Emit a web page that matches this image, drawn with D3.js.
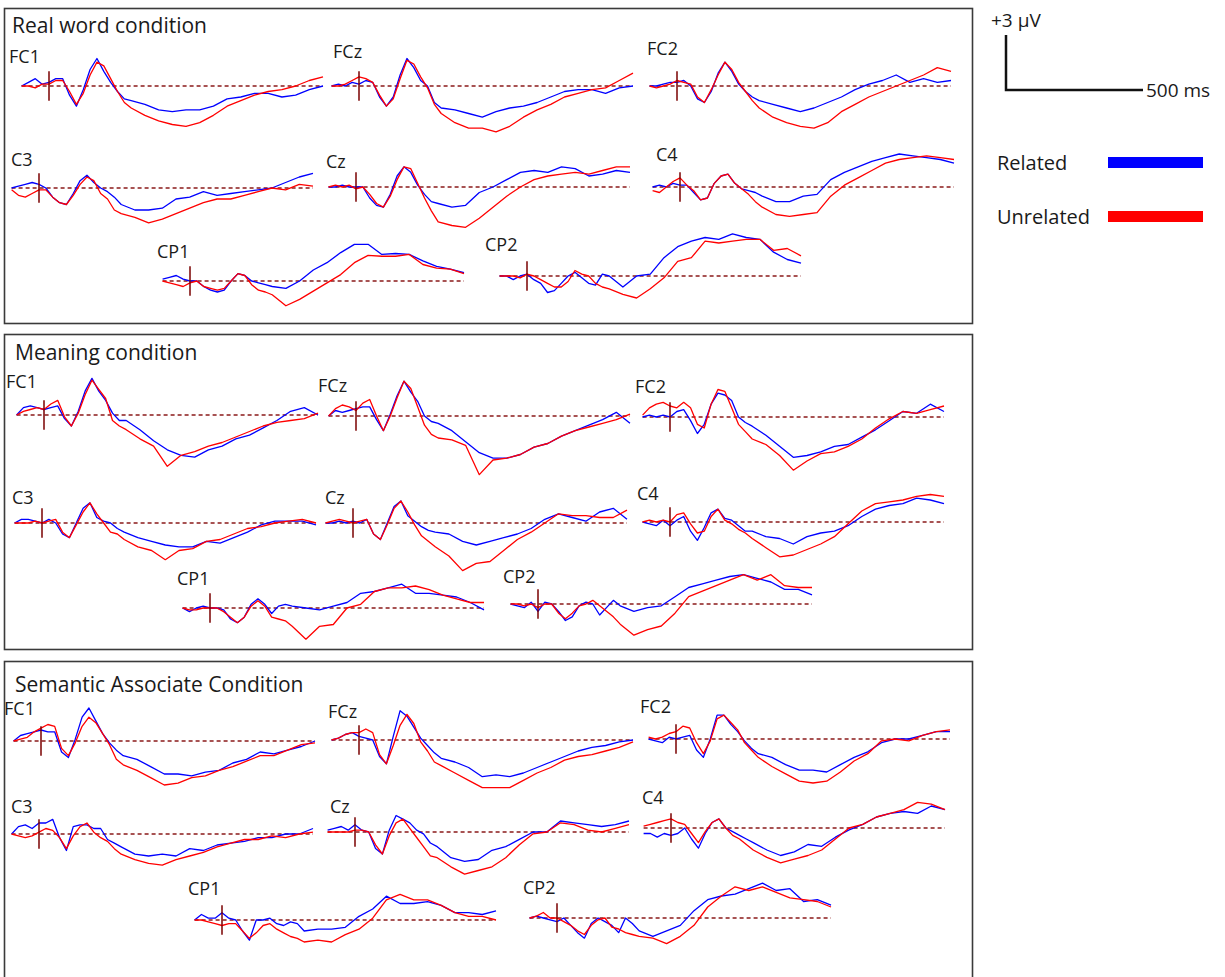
<!DOCTYPE html>
<html>
<head>
<meta charset="utf-8">
<script src="https://cdn.jsdelivr.net/npm/d3@7"></script>
<style>
  body { margin: 0; background: #fff; }
  svg { display: block; font-family: 'Open Sans', 'Noto Sans', sans-serif; }
</style>
</head>
<body>
<div id="chart"></div>
<script>
// sample times (ms) shared by every trace
var times = [-100,-75,-50,-25,0,25,50,75,100,125,150,175,200,225,250,275,300,
  350,400,450,500,550,600,650,700,750,800,850,900,950,1000];
var electrodes = ['FC1','FCz','FC2','C3','Cz','C4','CP1','CP2'];
var conditions = ['Real word condition','Meaning condition','Semantic Associate Condition'];
var legendLabels = ['Related','Unrelated'];
var scaleUV = 3;
var scaleMs = 500;

// real word condition (uV)
var realFC1Rel = [0,0.2,0.4,0.1,0.2,0.4,0.4,-0.5,-1.1,-0.2,0.9,1.5,0.8,0.2,-0.3,-0.7,-0.8,-1.0,-1.3,-1.4,-1.3,-1.3,-1.1,-0.7,-0.6,-0.4,-0.4,-0.6,-0.5,-0.2,0.0];
var realFC1Unr = [0,0,-0.1,0.1,0.1,0.3,0.3,-0.3,-1.0,-0.4,0.6,1.3,1.1,0.4,-0.3,-0.9,-1.2,-1.6,-1.9,-2.1,-2.2,-2.0,-1.6,-1.1,-0.8,-0.5,-0.3,-0.2,0,0.3,0.5];
var realFCzRel = [0,0.1,0,0.2,0.1,0.3,0.2,-0.6,-1.1,-0.6,0.6,1.5,1.0,0.3,0,-0.9,-1.2,-1.3,-1.5,-1.7,-1.4,-1.2,-1.1,-0.9,-0.6,-0.3,-0.2,-0.2,-0.4,-0.1,0];
var realFCzUnr = [0,0,0.1,0.3,0.5,0.4,0.2,-0.5,-1.1,-0.7,0.4,1.4,1.2,0.5,-0.1,-1.0,-1.5,-2.0,-2.3,-2.3,-2.5,-2.2,-1.7,-1.3,-1.0,-0.6,-0.4,-0.2,-0.1,0.3,0.7];
var realFC2Rel = [0,0,0.1,0.2,0.2,0.3,0,-0.7,-0.9,-0.3,0.7,1.3,0.8,0.1,-0.3,-0.6,-0.8,-1.0,-1.2,-1.4,-1.2,-0.9,-0.6,-0.2,0.1,0.3,0.6,0.2,0.4,0.2,0.3];
var realFC2Unr = [0,-0.1,0,0.1,0.3,0.2,0.1,-0.6,-0.9,-0.2,0.6,1.3,0.9,0.2,-0.3,-0.8,-1.2,-1.7,-2.0,-2.2,-2.3,-2.0,-1.4,-1.0,-0.6,-0.3,0,0.3,0.6,1.0,0.8];
var realC3Rel = [0,0.1,0.2,0.3,0.2,0,-0.5,-0.8,-0.9,-0.3,0.4,0.7,0.3,0,-0.2,-0.5,-0.9,-1.2,-1.2,-1.1,-0.6,-0.5,-0.2,-0.4,-0.3,-0.2,-0.1,0,0.3,0.6,0.8];
var realC3Unr = [-0.1,-0.4,-0.5,-0.3,-0.1,-0.1,-0.5,-0.8,-0.9,-0.4,0.2,0.6,0.4,-0.3,-0.6,-1.2,-1.4,-1.6,-1.9,-1.7,-1.4,-1.1,-0.8,-0.6,-0.6,-0.4,-0.2,0,-0.1,0.2,0.1];
var realCzRel = [0,0,0.1,0,0,0,-0.6,-1.0,-1.1,-0.4,0.6,1.1,0.8,0.1,-0.4,-0.8,-0.9,-1.1,-1.0,-0.3,0,0.4,0.8,0.9,0.8,1.1,1.0,0.6,0.7,0.9,0.8];
var realCzUnr = [0,0.1,0,0.1,-0.1,0,-0.4,-0.9,-1.1,-0.5,0.4,1.1,1.0,0.2,-0.6,-1.3,-1.9,-2.1,-2.2,-1.7,-1.1,-0.5,0,0.4,0.6,0.7,0.8,0.7,0.9,1.1,1.1];
var realC4Rel = [0,0.1,0,0.2,0.1,0.1,-0.3,-0.7,-0.6,0.2,0.6,0.7,0.2,-0.1,-0.2,-0.3,-0.5,-0.8,-0.8,-0.5,-0.4,0.4,0.8,1.1,1.4,1.6,1.8,1.7,1.6,1.5,1.3];
var realC4Unr = [-0.2,-0.3,0,0.3,0.5,0.1,-0.2,-0.7,-0.6,0.2,0.6,0.7,0.2,-0.1,-0.4,-0.8,-1.1,-1.5,-1.6,-1.5,-1.4,-0.5,0.1,0.5,0.9,1.3,1.5,1.6,1.7,1.6,1.5];
var realCP1Rel = [0.1,0.2,0.3,0.1,0,0,-0.3,-0.5,-0.6,-0.5,0,0.4,0.3,0,-0.1,-0.2,-0.3,-0.4,0,0.6,1.0,1.55,2.0,2.0,1.45,1.5,1.45,1.1,0.8,0.65,0.45];
var realCP1Unr = [0,-0.1,-0.2,-0.3,-0.1,0,-0.3,-0.4,-0.5,-0.4,0,0.4,0.3,-0.2,-0.5,-0.6,-0.75,-1.35,-1.0,-0.55,-0.1,0.35,1.0,1.4,1.35,1.35,1.45,0.9,0.7,0.65,0.4];
var realCP2Rel = [0,0,-0.2,0,0.1,-0.2,-0.4,-0.9,-0.8,-0.4,0,0.2,-0.1,-0.4,-0.5,0.1,0,-0.6,0,0.1,1.0,1.6,1.9,2.1,2.0,2.3,2.1,2.0,1.3,0.9,0.7];
var realCP2Unr = [0,0,0,-0.1,0.1,0,-0.2,-0.4,-0.6,-0.6,-0.3,0.3,0.1,0,-0.4,-0.6,-0.7,-1.0,-1.2,-0.7,-0.1,0.8,1.0,1.9,1.8,1.9,2.0,2.0,1.4,1.5,1.1];

// meaning condition
var meanFC1Rel = [0,0.4,0.5,0.4,0.3,0.4,0.5,-0.2,-0.6,0.2,1.3,2.0,1.3,0.8,0.1,-0.3,-0.3,-0.8,-1.4,-1.9,-2.2,-2.3,-1.9,-1.7,-1.3,-1.1,-0.7,-0.3,0.2,0.4,0];
var meanFC1Unr = [0,0.2,0.3,0.4,0.3,0.6,0.8,-0.1,-0.6,0.1,1.1,1.9,1.4,0.9,-0.3,-0.6,-0.8,-1.3,-1.7,-2.8,-2.2,-2.0,-1.7,-1.5,-1.2,-0.9,-0.6,-0.4,-0.3,-0.2,0.1];
var meanFCzRel = [0,0.3,0.2,0.3,0.4,0.5,0.5,-0.2,-0.8,0.1,1.1,1.9,1.3,0.8,0,-0.3,-0.4,-0.8,-1.4,-2.0,-2.3,-2.3,-2.1,-1.7,-1.5,-1.1,-0.8,-0.5,-0.2,0.2,-0.4];
var meanFCzUnr = [0,0.4,0.6,0.5,0.3,0.7,0.9,0,-0.8,0,1.0,1.9,1.5,0.5,-0.5,-1.0,-1.2,-1.3,-1.6,-3.2,-2.4,-2.3,-2.1,-1.7,-1.5,-1.1,-0.8,-0.6,-0.4,-0.2,0.1];
var meanFC2Rel = [0,0.1,0,0.1,0,0.3,0.4,-0.2,-0.9,-0.4,0.7,1.3,1.2,0.9,0,-0.3,-0.5,-1.0,-1.6,-2.2,-2.1,-1.9,-1.6,-1.5,-1.1,-0.7,-0.2,0.3,0.2,0.7,0.3];
var meanFC2Unr = [0.1,0.5,0.7,0.8,0.6,0.5,0.8,0.5,-0.4,-0.6,0.7,1.5,1.4,0.5,-0.4,-0.8,-1.2,-1.5,-2.1,-2.9,-2.4,-2.0,-1.9,-1.6,-1.2,-0.6,-0.1,0.3,0.2,0.4,0.6];
var meanC3Rel = [0,0.2,0.2,0.1,0,0.2,0,-0.6,-0.8,0,0.8,1.1,0.3,0.1,0,-0.3,-0.5,-0.8,-1.0,-1.2,-1.3,-1.3,-1.0,-1.1,-0.8,-0.5,-0.1,0.1,0.1,0.1,-0.1];
var meanC3Unr = [0,0,0,0.1,0,0.1,0.2,-0.5,-0.8,-0.1,0.6,1.1,0.5,0,-0.5,-0.6,-0.9,-1.3,-1.5,-2.0,-1.5,-1.4,-1.0,-0.9,-0.6,-0.3,-0.2,0,0.1,0.2,0];
var meanCzRel = [0,0,0.1,0,0.1,0,0.2,-0.6,-0.9,0,0.9,1.2,0.4,0.1,-0.2,-0.4,-0.5,-0.6,-1.0,-1.2,-1.0,-0.8,-0.6,-0.3,0.2,0.5,0.3,0.1,0.6,0.8,0.2];
var meanCzUnr = [0,0.1,0.2,0.1,0,0.1,0.2,-0.6,-0.9,-0.1,0.8,1.2,0.6,-0.1,-0.7,-1.0,-1.3,-1.8,-2.6,-2.2,-2.1,-1.5,-0.9,-0.5,0,0.5,0.4,0.4,0.3,0.3,0.7];
var meanC4Rel = [0,-0.1,-0.2,0.1,-0.2,0.1,0.3,-0.5,-1.0,-0.3,0.5,0.7,0.2,0.1,-0.2,-0.5,-0.5,-0.8,-0.9,-1.2,-0.8,-0.6,-0.5,-0.2,0.3,0.7,0.9,1.0,1.3,1.2,1.0];
var meanC4Unr = [0,0.1,0,0.1,0,0.4,0.5,-0.1,-0.6,-0.5,0.3,0.7,0.1,-0.1,-0.4,-0.6,-0.9,-1.4,-1.9,-1.8,-1.5,-1.2,-0.8,-0.1,0.6,1.0,1.1,1.2,1.4,1.5,1.4];
var meanCP1Rel = [0,-0.2,0,0.1,0,0,-0.1,-0.6,-0.8,-0.5,0.2,0.5,0.2,-0.3,0.1,0.2,0.1,0,-0.1,0.1,0.3,0.8,0.9,1.1,1.3,0.8,0.8,0.7,0.6,0.3,-0.1];
var meanCP1Unr = [0,-0.1,-0.1,0,0,0,-0.2,-0.5,-0.8,-0.5,0.1,0.4,0.1,-0.5,-0.6,-0.7,-1.0,-1.7,-1.0,-0.9,0,0.2,0.9,1.1,1.1,1.2,1.0,0.7,0.5,0.3,0.3];
var meanCP2Rel = [0,-0.1,-0.2,0.1,-0.4,0.1,0,-0.4,-0.9,-0.7,-0.1,0.1,0,-0.6,-0.2,0.2,-0.1,-0.4,-0.2,-0.1,0.4,0.9,1.1,1.3,1.5,1.6,1.4,1.2,0.8,0.8,0.5];
var meanCP2Unr = [0,0,-0.1,0,-0.2,0,0,-0.5,-0.8,-0.5,-0.1,0,0.2,-0.1,-0.4,-0.7,-1.1,-1.7,-1.4,-1.2,-0.5,0.4,0.7,1.0,1.3,1.6,1.3,1.6,1.0,0.9,0.9];

// semantic associate condition
var semFC1Rel = [0,0.3,0.4,0.5,0.6,0.5,0.5,-0.6,-0.9,0.1,1.3,1.8,1.1,0.4,-0.1,-0.5,-0.8,-1.0,-1.4,-1.8,-1.8,-1.9,-1.7,-1.6,-1.2,-1.0,-0.6,-0.7,-0.5,-0.3,0];
var semFC1Unr = [0,0.1,0.2,0.5,0.7,0.9,0.8,-0.4,-0.8,-0.1,0.8,1.3,1.0,0.4,-0.2,-1.0,-1.3,-1.6,-2.0,-2.4,-2.3,-2.0,-1.9,-1.6,-1.4,-1.1,-0.8,-0.8,-0.5,-0.2,-0.1];
var semFCzRel = [0,0.1,0.3,0.4,0.2,0.1,0,-0.9,-1.3,0.2,1.6,1.3,0.7,0.1,-0.3,-0.7,-1.0,-1.2,-1.5,-2.0,-1.9,-2.0,-1.8,-1.5,-1.2,-0.9,-0.6,-0.4,-0.3,-0.1,0];
var semFCzUnr = [0,0.1,0.3,0.4,0.4,0.6,0.4,-0.8,-1.3,-0.3,0.8,1.4,0.9,-0.1,-0.6,-1.2,-1.4,-1.8,-2.2,-2.6,-2.6,-2.6,-2.2,-1.8,-1.5,-1.1,-0.9,-0.8,-0.6,-0.4,-0.1];
var semFC2Rel = [0,-0.1,-0.2,0.1,0,0.1,0.2,-0.6,-1.0,0,1.3,1.3,0.8,0.4,-0.1,-0.5,-0.8,-1.0,-1.4,-1.7,-1.7,-1.8,-1.4,-1.0,-0.7,-0.2,0,0,0.2,0.4,0.4];
var semFC2Unr = [0.1,0,0.1,0.3,0.4,0.7,0.6,-0.2,-0.8,-0.1,1.1,1.3,0.9,0.5,-0.2,-0.6,-1.0,-1.5,-1.9,-2.3,-2.4,-2.3,-1.8,-1.2,-0.8,-0.1,0,-0.1,0.2,0.4,0.5];
var semC3Rel = [0,0.4,0.5,0.3,0.6,0.6,0.8,-0.2,-0.9,0.4,0.5,0.5,0.3,0.3,-0.3,-0.5,-0.7,-1.1,-1.2,-1.1,-1.2,-0.8,-0.9,-0.6,-0.5,-0.4,-0.2,-0.2,0,0,0.3];
var semC3Unr = [0,-0.1,-0.2,-0.1,0.1,0.3,0.2,-0.2,-0.8,-0.1,0.4,0.6,0.1,-0.2,-0.4,-0.8,-1.1,-1.4,-1.6,-1.7,-1.4,-1.2,-1.0,-0.7,-0.5,-0.3,-0.3,-0.1,-0.2,0,0.1];
var semCzRel = [0.1,0.2,0.3,0.1,0.4,0.1,0,-0.9,-1.2,0.1,0.9,0.7,0.5,0.1,-0.1,-0.6,-0.8,-1.4,-1.6,-1.5,-1.0,-0.8,-0.4,0,0,0.6,0.5,0.4,0.3,0.4,0.6];
var semCzUnr = [0,0,0,0,0.1,0.1,0,-0.7,-1.2,-0.2,0.5,0.7,0.2,-0.3,-0.8,-1.3,-1.4,-1.9,-2.3,-2.1,-1.9,-1.4,-0.7,-0.1,0,0.5,0.4,0.1,0,0.2,0.4];
var semC4Rel = [-0.3,-0.3,-0.5,-0.3,-0.4,-0.3,0,-0.6,-1.1,-0.3,0.3,0.5,0,-0.2,-0.4,-0.6,-0.8,-1.2,-1.5,-1.3,-0.9,-1.0,-0.5,-0.1,0.2,0.6,0.8,0.9,0.8,1.2,1.0];
var semC4Unr = [0.1,0.2,0.3,0.4,0.5,0.3,0.2,-0.3,-0.8,-0.2,0.3,0.5,0,-0.4,-0.6,-0.9,-1.2,-1.6,-1.9,-1.7,-1.5,-1.2,-0.6,0,0.2,0.6,0.8,1.0,1.4,1.3,1.0];
var semCP1Rel = [0,0.3,0.1,0.1,0.4,0.1,0,-0.6,-1.1,0,0,0.1,-0.2,-0.3,-0.1,-0.2,-0.6,-0.5,-0.5,-0.4,0.2,0.6,1.3,0.9,0.9,1.0,0.8,0.4,0.4,0.3,0.5];
var semCP1Unr = [0,0,-0.1,-0.2,-0.3,-0.2,-0.2,-0.6,-1.0,-0.7,-0.3,-0.2,-0.5,-0.7,-0.9,-1.0,-1.2,-1.1,-1.2,-0.8,-0.5,0.1,1.1,1.4,1.1,1.1,0.8,0.4,0.2,0.2,0];
var semCP2Rel = [0,0.1,0,-0.1,-0.2,0,-0.4,-0.8,-1.1,-0.3,0,-0.2,-0.4,-0.8,0,-0.3,-0.7,-1.0,-0.7,-0.4,0.4,1.0,1.2,1.3,1.6,1.9,1.5,1.6,0.9,1.0,0.7];
var semCP2Unr = [0,0.1,0.3,0,0,-0.2,-0.4,-0.7,-0.9,-0.4,-0.1,0,-0.5,-0.6,-0.8,-0.9,-1.0,-1.1,-1.4,-1.0,-0.4,0.6,1.2,1.7,1.5,1.7,1.4,1.1,1.0,0.9,0.6];

// grouped per condition, electrode order as above
var relatedSets = [
  [realFC1Rel, realFCzRel, realFC2Rel, realC3Rel, realCzRel, realC4Rel, realCP1Rel, realCP2Rel],
  [meanFC1Rel, meanFCzRel, meanFC2Rel, meanC3Rel, meanCzRel, meanC4Rel, meanCP1Rel, meanCP2Rel],
  [semFC1Rel, semFCzRel, semFC2Rel, semC3Rel, semCzRel, semC4Rel, semCP1Rel, semCP2Rel]
];
var unrelatedSets = [
  [realFC1Unr, realFCzUnr, realFC2Unr, realC3Unr, realCzUnr, realC4Unr, realCP1Unr, realCP2Unr],
  [meanFC1Unr, meanFCzUnr, meanFC2Unr, meanC3Unr, meanCzUnr, meanC4Unr, meanCP1Unr, meanCP2Unr],
  [semFC1Unr, semFCzUnr, semFC2Unr, semC3Unr, semCzUnr, semC4Unr, semCP1Unr, semCP2Unr]
];

// layout: panel boxes and [onsetX, baselineY, labelX, labelY] per electrode
var panelBoxes = [
  {top: 8, height: 315, titleX: 12, titleY: 33},
  {top: 334, height: 315, titleX: 15, titleY: 360},
  {top: 661, height: 330, titleX: 15, titleY: 692}
];
var sitePos = [
  [[49,86,9,63],[359,86,333,58],[677,86,647,55],[39,188,11,166],[356,187,326,168],[680,187,656,161],[190,281,157,258],[527,276,485,251]],
  [[44,415,6,388],[356,416,318,392],[670,417,635,393],[42,523,12,504],[353,523,325,504],[670,522,637,500],[210,608,177,585],[538,604,503,583]],
  [[41,741,4,715],[359,740,328,718],[676,739,640,713],[39,834,11,813],[355,832,330,813],[671,828,642,804],[222,920,188,895],[557,918,523,894]]
];
var msWidth = 137;   // px for 500 ms
var uvHeight = 55;   // px for 3 uV

var svg = d3.select('#chart')
  .append('svg')
  .attr('width', 1225)
  .attr('height', 977);

var baseColor = '#8b1a1a';

panelBoxes.forEach(function(box, p) {
  var g = svg.append('g');

  g.append('rect')
    .attr('x', 4.5)
    .attr('y', box.top + 0.5)
    .attr('width', 968)
    .attr('height', box.height)
    .attr('fill', 'none')
    .attr('stroke', '#3a3a3a')
    .attr('stroke-width', 1.6);

  g.append('text')
    .attr('x', box.titleX)
    .attr('y', box.titleY)
    .attr('font-size', '21px')
    .attr('fill', '#1a1a1a')
    .text(conditions[p]);

  electrodes.forEach(function(name, e) {
    var pos = sitePos[p][e];
    var x = d3.scaleLinear().domain([0, scaleMs]).range([pos[0], pos[0] + msWidth]);
    var y = d3.scaleLinear().domain([0, scaleUV]).range([pos[1], pos[1] - uvHeight]);

    var line = d3.line()
      .x(function(d, i) { return x(times[i]); })
      .y(function(d) { return y(d); });

    g.append('text')
      .attr('x', pos[2])
      .attr('y', pos[3])
      .attr('font-size', '18px')
      .attr('fill', '#1a1a1a')
      .text(name);

    // dashed zero line
    g.append('line')
      .attr('x1', x(times[0]))
      .attr('x2', x(times[times.length - 1]))
      .attr('y1', y(0))
      .attr('y2', y(0))
      .attr('stroke', baseColor)
      .attr('stroke-width', 1.6)
      .attr('stroke-dasharray', '4,3');

    g.append('path')
      .datum(relatedSets[p][e])
      .attr('d', line)
      .attr('fill', 'none')
      .attr('stroke', '#0000ff')
      .attr('stroke-width', 1.3)
      .attr('stroke-linejoin', 'round');

    g.append('path')
      .datum(unrelatedSets[p][e])
      .attr('d', line)
      .attr('fill', 'none')
      .attr('stroke', '#ff0000')
      .attr('stroke-width', 1.3)
      .attr('stroke-linejoin', 'round');

    // stimulus onset tick
    g.append('line')
      .attr('x1', x(0))
      .attr('x2', x(0))
      .attr('y1', y(0.8))
      .attr('y2', y(-0.8))
      .attr('stroke', '#7a0000')
      .attr('stroke-width', 1.5);
  });
});

// calibration bar
var calX = d3.scaleLinear().domain([0, scaleMs]).range([1006, 1006 + msWidth]);
var calY = d3.scaleLinear().domain([0, scaleUV]).range([90, 90 - uvHeight]);

svg.append('path')
  .attr('d', 'M' + calX(0) + ',' + calY(scaleUV) + 'V' + calY(0) + 'H' + calX(scaleMs))
  .attr('fill', 'none')
  .attr('stroke', '#111')
  .attr('stroke-width', 2.5);

svg.append('text')
  .attr('x', 991)
  .attr('y', 27)
  .attr('font-size', '19px')
  .attr('fill', '#1a1a1a')
  .text('+' + scaleUV + '\u00a0\u00b5V');

svg.append('text')
  .attr('x', calX(scaleMs) + 3)
  .attr('y', 97)
  .attr('font-size', '19px')
  .attr('fill', '#1a1a1a')
  .text(scaleMs + ' ms');

// legend
var legendColors = ['#0000ff', '#ff0000'];
var legendY = [163, 217];

legendLabels.forEach(function(label, i) {
  svg.append('text')
    .attr('x', 997)
    .attr('y', legendY[i] + 7)
    .attr('font-size', '20px')
    .attr('fill', '#1a1a1a')
    .text(label);

  svg.append('rect')
    .attr('x', 1108)
    .attr('y', legendY[i] - 6)
    .attr('width', 95)
    .attr('height', 11)
    .attr('fill', legendColors[i]);
});
</script>
</body>
</html>
